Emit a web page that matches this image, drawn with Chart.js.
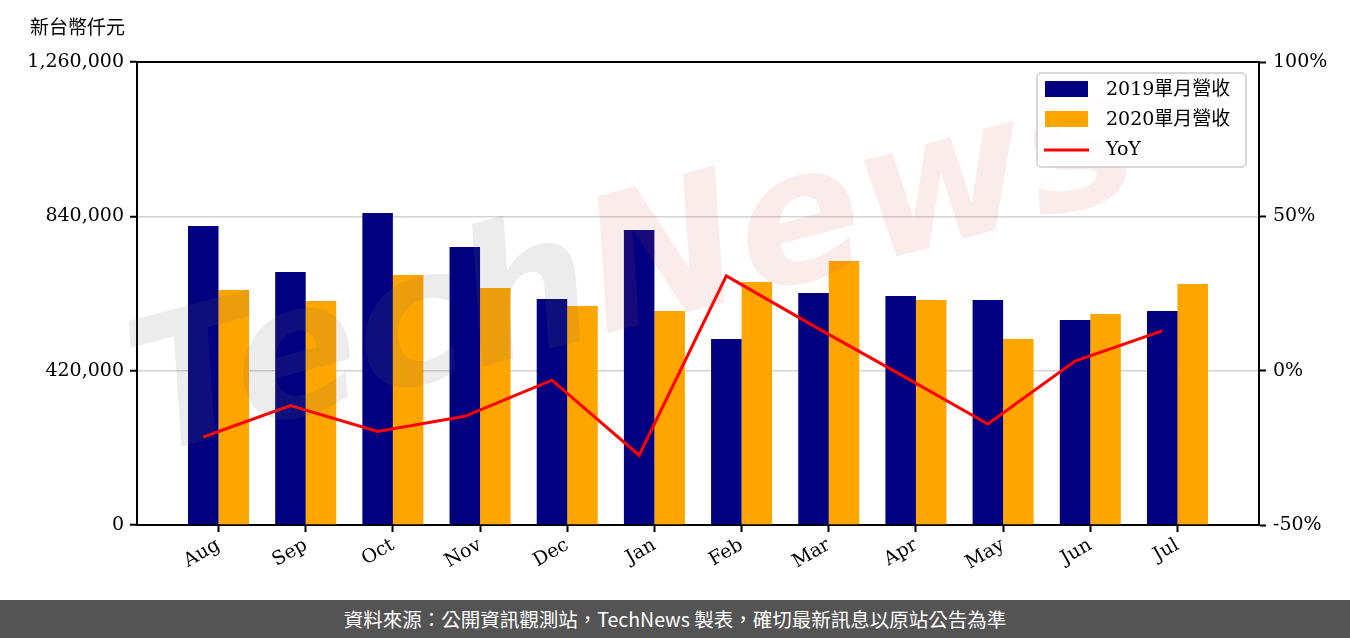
<!DOCTYPE html>
<html>
<head>
<meta charset="utf-8">
<script src="https://cdn.jsdelivr.net/npm/chart.js@4/dist/chart.umd.min.js"></script>
<style>
    html, body { margin: 0; padding: 0; background: #fff; }
    #wrap { position: relative; width: 1350px; height: 638px; overflow: hidden; }
    #chart { display: block; }
    #footer {
        position: absolute; left: 0; top: 600px; width: 1350px; height: 38px;
        background: #545454; color: #fff; text-align: center;
        font: 19.5px "Noto Sans CJK TC", "Noto Sans", sans-serif; line-height: 38px;
    }
</style>
</head>
<body>
<div id="wrap">
    <canvas id="chart" width="1350" height="600"></canvas>
    <div id="footer">資料來源：公開資訊觀測站，TechNews 製表，確切最新訊息以原站公告為準</div>
</div>
<script>
// 資料
const months = ["Aug", "Sep", "Oct", "Nov", "Dec", "Jan", "Feb", "Mar", "Apr", "May", "Jun", "Jul"];
const rev2019 = [813700, 688500, 849100, 756500, 615000, 802800, 506200, 631400, 623200, 612300, 557900, 582400];
const rev2020 = [639500, 609600, 680300, 645000, 596000, 582400, 661300, 718400, 612300, 506200, 574200, 655900];
const yoy = [-21.5, -11.3, -19.7, -14.8, -3.1, -27.4, 30.7, 14.5, -1.3, -17.3, 3.1, 12.9];
const revTicks = [0, 420000, 840000, 1260000];
const yoyTicks = [-50, 0, 50, 100];

const BAR_W = 0.35;
const SERIF = "'DejaVu Serif', 'Noto Sans CJK TC', serif";
const tickFont = { family: SERIF, size: 19 };

document.addEventListener("DOMContentLoaded", () => {
    const ctx = document.getElementById("chart").getContext("2d");

    // 框線、單位、浮水印、圖例
    const decor = {
        id: "decor",
        afterDatasetsDraw(chart) {
            const c = chart.ctx;
            c.save();
            c.translate(150, 455);
            c.rotate(-0.26);
            c.font = "bold italic 185px 'DejaVu Sans', sans-serif";
            c.textBaseline = "alphabetic";
            c.fillStyle = "rgba(110,110,110,0.13)";
            c.fillText("Tech", 0, 0);
            const w = c.measureText("Tech").width;
            c.fillStyle = "rgba(220,80,80,0.11)";
            c.fillText("News", w, 0);
            c.restore();
        },
        afterDraw(chart) {
            const c = chart.ctx;
            const a = chart.chartArea;
            c.save();
            // 上框線
            c.strokeStyle = "#000";
            c.lineWidth = 2;
            c.beginPath();
            c.moveTo(a.left - 1, a.top);
            c.lineTo(a.right + 1, a.top);
            c.stroke();

            // 單位
            c.fillStyle = "#000";
            c.font = "19px 'Noto Sans CJK TC', sans-serif";
            c.textAlign = "left";
            c.textBaseline = "middle";
            c.fillText("新台幣仟元", 30, 27);

            // 圖例
            const lx = 1037, ly = 73, lw = 209, lh = 94;
            c.fillStyle = "rgba(255,255,255,0.85)";
            c.strokeStyle = "#cccccc";
            c.lineWidth = 1.5;
            c.beginPath();
            c.roundRect(lx, ly, lw, lh, 4);
            c.fill();
            c.stroke();
            const items = chart.data.datasets.slice().sort((p, q) => p.legendIndex - q.legendIndex);
            items.forEach((ds, i) => {
                const cy = ly + 16 + i * 30;
                if (ds.type === "line") {
                    c.strokeStyle = ds.borderColor;
                    c.lineWidth = 3;
                    c.beginPath();
                    c.moveTo(lx + 7, cy + 1);
                    c.lineTo(lx + 52, cy + 1);
                    c.stroke();
                } else {
                    c.fillStyle = ds.backgroundColor;
                    c.fillRect(lx + 8, cy - 8, 43, 16);
                }
                c.fillStyle = "#000";
                c.font = "19px " + SERIF;
                c.textAlign = "left";
                c.textBaseline = "middle";
                c.fillText(ds.label, lx + 69, cy + 1);
            });
            c.restore();
        },
    };

    new Chart(ctx, {
        data: {
            datasets: [
                {
                    type: "line",
                    label: "YoY",
                    legendIndex: 2,
                    data: yoy.map((v, i) => ({ x: i - BAR_W / 2, y: v })),
                    borderColor: "#ff0000",
                    borderWidth: 3,
                    pointRadius: 0,
                    tension: 0,
                    xAxisID: "x",
                    yAxisID: "y1",
                    order: 0,
                },
                {
                    type: "bar",
                    label: "2019單月營收",
                    legendIndex: 0,
                    data: rev2019.map((v, i) => ({ x: i, y: v })),
                    backgroundColor: "#000080",
                    categoryPercentage: BAR_W * 2,
                    barPercentage: 1.0,
                    xAxisID: "x",
                    yAxisID: "y",
                    order: 1,
                },
                {
                    type: "bar",
                    label: "2020單月營收",
                    legendIndex: 1,
                    data: rev2020.map((v, i) => ({ x: i, y: v })),
                    backgroundColor: "#ffa500",
                    categoryPercentage: BAR_W * 2,
                    barPercentage: 1.0,
                    xAxisID: "x",
                    yAxisID: "y",
                    order: 1,
                },
            ],
        },
        options: {
            responsive: false,
            animation: false,
            layout: { padding: { top: 62, left: 0, right: 0, bottom: 0 } },
            plugins: {
                legend: { display: false },
                tooltip: { enabled: false },
            },
            scales: {
                x: {
                    type: "linear",
                    offset: false,
                    min: -0.935,
                    max: months.length - 1 + 0.935,
                    afterBuildTicks: (axis) => {
                        axis.ticks = months.map((_, i) => ({ value: i }));
                    },
                    afterFit: (axis) => { axis.height = 75; },
                    ticks: {
                        autoSkip: false,
                        maxRotation: 30,
                        minRotation: 30,
                        padding: 2,
                        color: "#000",
                        font: tickFont,
                        callback: (v) => months[v],
                    },
                    grid: { offset: false, drawOnChartArea: false, tickColor: "#000", tickLength: 7, tickWidth: 2 },
                    border: { color: "#000", width: 2 },
                },
                y: {
                    position: "left",
                    min: 0,
                    max: revTicks[revTicks.length - 1],
                    afterBuildTicks: (axis) => {
                        axis.ticks = revTicks.map((v) => ({ value: v }));
                    },
                    afterFit: (axis) => { axis.width = 137; },
                    ticks: {
                        padding: 6,
                        color: "#000",
                        font: tickFont,
                        callback: (v) => v.toLocaleString("en-US"),
                    },
                    grid: { color: "#d3d3d3", lineWidth: 1.5, tickColor: "#000", tickLength: 7, tickWidth: 2 },
                    border: { color: "#000", width: 2 },
                },
                y1: {
                    position: "right",
                    min: yoyTicks[0],
                    max: yoyTicks[yoyTicks.length - 1],
                    afterBuildTicks: (axis) => {
                        axis.ticks = yoyTicks.map((v) => ({ value: v }));
                    },
                    afterFit: (axis) => { axis.width = 91; },
                    ticks: {
                        padding: 7,
                        color: "#000",
                        font: tickFont,
                        callback: (v) => v + "%",
                    },
                    grid: { drawOnChartArea: false, tickColor: "#000", tickLength: 7, tickWidth: 2 },
                    border: { color: "#000", width: 2 },
                },
            },
        },
        plugins: [decor],
    });
});
</script>
</body>
</html>
